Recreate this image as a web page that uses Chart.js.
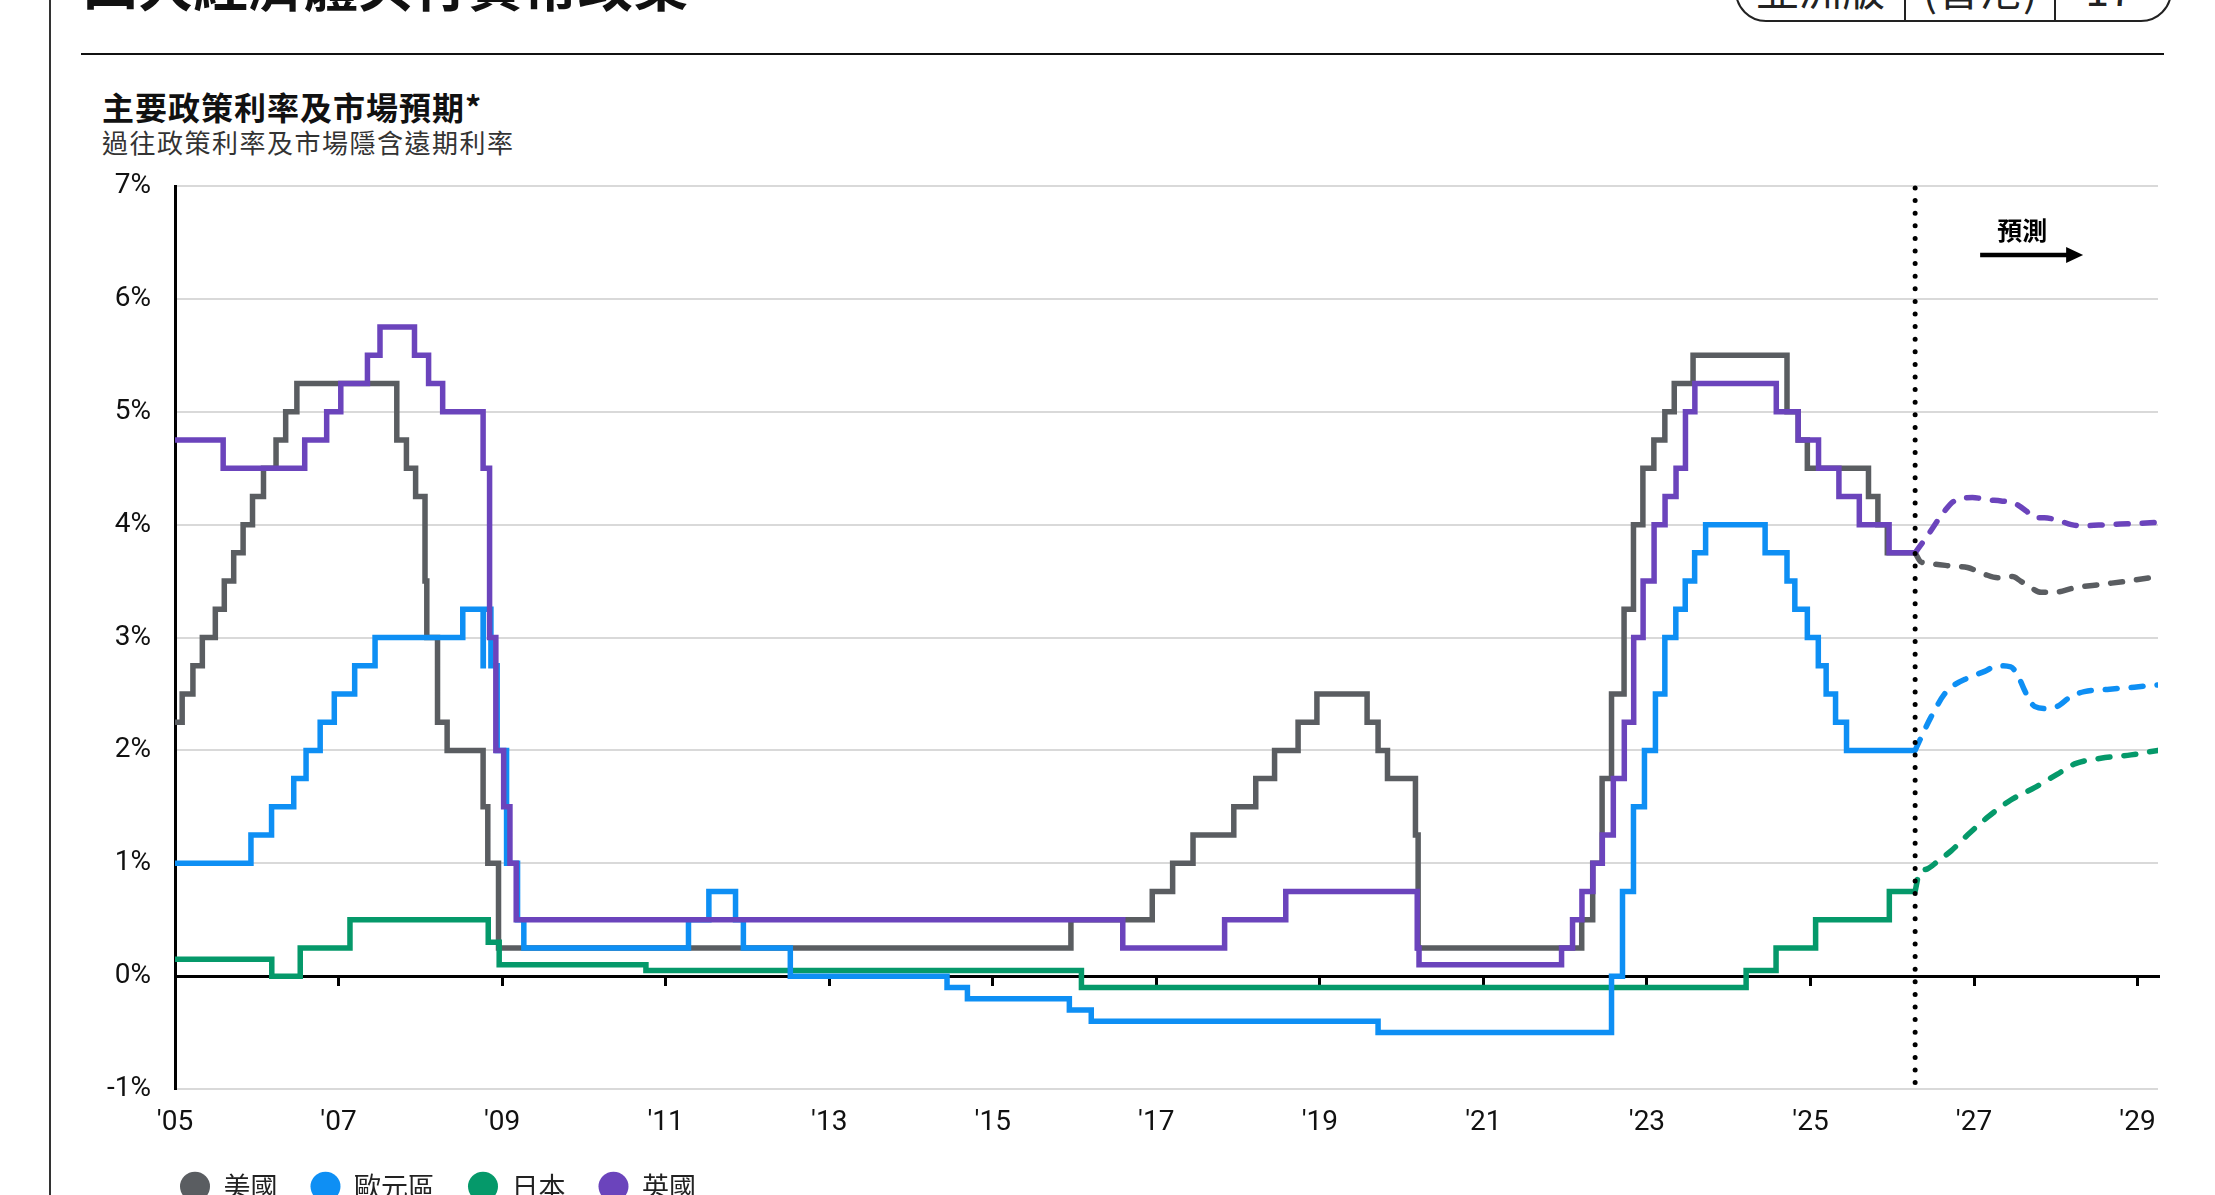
<!DOCTYPE html>
<html>
<head>
<meta charset="utf-8">
<script src="https://cdn.jsdelivr.net/npm/chart.js@4.4.1/dist/chart.umd.min.js"></script>
<style>
html,body{margin:0;padding:0;width:2215px;height:1195px;overflow:hidden;background:#fff;}
body{position:relative;font-family:'Noto Sans CJK TC','Noto Sans CJK SC',sans-serif;color:#111;}
.abs{position:absolute;white-space:nowrap;}
#pageTitle{left:83px;top:-45px;font-size:55px;line-height:55px;font-weight:700;color:#111;}
#vline{left:49px;top:0;width:2px;height:1195px;background:#333;}
#hline{left:81px;top:53px;width:2083px;height:2px;background:#111;}
#pill{left:1735px;top:-40px;width:437px;height:62px;border:2px solid #222;border-radius:34px;box-sizing:border-box;}
.pdiv{top:-10px;width:2px;height:32px;background:#222;}
.pcell{top:-36px;height:46px;font-size:43px;line-height:46px;color:#222;text-align:center;}
#chartTitle{left:102px;top:90px;font-size:32px;line-height:32px;font-weight:700;letter-spacing:1px;color:#111;}
#chartSub{left:102px;top:129px;font-size:26px;line-height:26px;letter-spacing:1.5px;color:#333;}
#wrap{position:absolute;left:0;top:150px;width:2215px;height:1060px;}
</style>
</head>
<body>
<div class="abs" id="vline"></div>
<div class="abs" id="pageTitle">四大經濟體央行貨幣政策</div>
<div class="abs" id="pill"></div>
<div class="abs pdiv" style="left:1904px;"></div>
<div class="abs pdiv" style="left:2054px;"></div>
<div class="abs pcell" style="left:1737px;width:167px;">亞洲版</div>
<div class="abs pcell" style="left:1906px;width:148px;">(香港)</div>
<div class="abs pcell" style="left:2056px;width:106px;">17</div>
<div class="abs" id="hline"></div>
<div class="abs" id="chartTitle">主要政策利率及市場預期*</div>
<div class="abs" id="chartSub">過往政策利率及市場隱含遠期利率</div>
<div id="wrap"><canvas id="c" width="2215" height="1060"></canvas></div>
<script>
// ---------- data ----------
const seriesNames = ['美國', '歐元區', '日本', '英國'];
const seriesColors = ['#5a5d61', '#0e8ff4', '#05996a', '#6b44bc'];
const forecastStart = 2026.28;
const forecastLabel = '預測';
const xTickYears = [2005, 2007, 2009, 2011, 2013, 2015, 2017, 2019, 2021, 2023, 2025, 2027, 2029];
const yTickValues = [-1, 0, 1, 2, 3, 4, 5, 6, 7];

const usDates = ['2005-01-01','2005-02-02','2005-03-22','2005-05-03','2005-06-30','2005-08-09','2005-09-20','2005-11-01','2005-12-13',
  '2006-01-31','2006-03-28','2006-05-10','2006-06-29','2007-09-18','2007-10-31','2007-12-11','2008-01-22','2008-01-30','2008-03-18',
  '2008-04-30','2008-10-08','2008-10-29','2008-12-16','2015-12-16','2016-12-14','2017-03-15','2017-06-14','2017-12-13','2018-03-21',
  '2018-06-13','2018-09-26','2018-12-19','2019-07-31','2019-09-18','2019-10-30','2020-03-03','2020-03-15','2022-03-16','2022-05-04',
  '2022-06-15','2022-07-27','2022-09-21','2022-11-02','2022-12-14','2023-02-01','2023-03-22','2023-05-03','2023-07-26','2024-09-18',
  '2024-11-07','2024-12-18','2025-09-17','2025-10-29','2025-12-10'];
const usRates = [2.25,2.5,2.75,3.0,3.25,3.5,3.75,4.0,4.25,
  4.5,4.75,5.0,5.25,4.75,4.5,4.25,3.5,3.0,2.25,
  2.0,1.5,1.0,0.25,0.5,0.75,1.0,1.25,1.5,1.75,
  2.0,2.25,2.5,2.25,2.0,1.75,1.25,0.25,0.5,1.0,
  1.75,2.5,3.25,4.0,4.5,4.75,5.0,5.25,5.5,5.0,
  4.75,4.5,4.25,4.0,3.75];

const euDates = ['2005-01-01','2005-12-06','2006-03-08','2006-06-15','2006-08-09','2006-10-11','2006-12-13','2007-03-14','2007-06-13',
  '2008-07-09','2008-10-08','2008-10-09','2008-11-12','2008-12-10','2009-01-21','2009-03-11','2009-04-08','2011-04-13','2011-07-13',
  '2011-11-09','2011-12-14','2012-07-11','2014-06-11','2014-09-10','2015-12-09','2016-03-16','2019-09-18','2022-07-27','2022-09-14',
  '2022-11-02','2022-12-21','2023-02-08','2023-03-22','2023-05-10','2023-06-21','2023-08-02','2023-09-20','2024-06-12','2024-09-18',
  '2024-10-23','2024-12-18','2025-02-05','2025-03-12','2025-04-23','2025-06-11'];
const euRates = [1.0,1.25,1.5,1.75,2.0,2.25,2.5,2.75,3.0,
  3.25,2.75,3.25,2.75,2.0,1.0,0.5,0.25,0.5,0.75,
  0.5,0.25,0.0,-0.1,-0.2,-0.3,-0.4,-0.5,0.0,0.75,
  1.5,2.0,2.5,3.0,3.25,3.5,3.75,4.0,3.75,3.5,
  3.25,3.0,2.75,2.5,2.25,2.0];

const jpDates = ['2005-01-01','2006-03-09','2006-07-14','2007-02-21','2008-10-31','2008-12-19','2010-10-05','2016-02-01',
  '2024-03-19','2024-07-31','2025-01-24','2025-12-19'];
const jpRates = [0.15,0.0,0.25,0.5,0.3,0.1,0.05,-0.1,0.05,0.25,0.5,0.75];

const ukDates = ['2005-01-01','2005-08-04','2006-08-03','2006-11-09','2007-01-11','2007-05-10','2007-07-05','2007-12-06','2008-02-07',
  '2008-04-10','2008-10-08','2008-11-06','2008-12-04','2009-01-08','2009-02-05','2009-03-05','2016-08-04','2017-11-02','2018-08-02',
  '2020-03-11','2020-03-19','2021-12-16','2022-02-03','2022-03-17','2022-05-05','2022-06-16','2022-08-04','2022-09-22','2022-11-03',
  '2022-12-15','2023-02-02','2023-03-23','2023-05-11','2023-06-22','2023-08-03','2024-08-01','2024-11-07','2025-02-06','2025-05-08',
  '2025-08-07','2025-12-18'];
const ukRates = [4.75,4.5,4.75,5.0,5.25,5.5,5.75,5.5,5.25,
  5.0,4.5,3.0,2.0,1.5,1.0,0.5,0.25,0.5,0.75,
  0.25,0.1,0.25,0.5,0.75,1.0,1.25,1.75,2.25,3.0,
  3.5,4.0,4.25,4.5,5.0,5.25,5.0,4.75,4.5,4.25,
  4.0,3.75];

// market-implied forward paths (decimal years)
const usFcYears = [2026.28,2026.35,2026.51,2026.76,2026.92,2027.13,2027.29,2027.47,2027.57,2027.70,2027.82,2027.98,2028.23,2028.55,2028.88,2029.25];
const usFcRates = [3.75,3.67,3.65,3.63,3.62,3.56,3.53,3.54,3.50,3.44,3.40,3.40,3.44,3.47,3.50,3.54];
const euFcYears = [2026.28,2026.35,2026.47,2026.64,2026.76,2026.92,2027.13,2027.29,2027.45,2027.53,2027.64,2027.74,2027.90,2028.02,2028.19,2028.35,2028.63,2028.96,2029.25];
const euFcRates = [2.00,2.11,2.29,2.50,2.58,2.64,2.70,2.75,2.74,2.67,2.50,2.39,2.37,2.39,2.48,2.52,2.54,2.56,2.58];
const jpFcYears = [2026.28,2026.33,2026.43,2026.56,2026.72,2026.92,2027.17,2027.45,2027.74,2028.02,2028.23,2028.55,2028.92,2029.25];
const jpFcRates = [0.75,0.91,0.95,1.02,1.11,1.25,1.41,1.56,1.67,1.79,1.88,1.93,1.96,2.00];
const ukFcYears = [2026.28,2026.41,2026.64,2026.76,2026.98,2027.17,2027.33,2027.49,2027.64,2027.74,2027.86,2028.02,2028.19,2028.33,2028.63,2028.96,2029.25];
const ukFcRates = [3.75,3.88,4.12,4.21,4.24,4.22,4.21,4.19,4.12,4.06,4.06,4.04,4.00,3.99,4.00,4.01,4.02];

// ---------- helpers ----------
function decYear(s) {
  const [y, m, d] = s.split('-').map(Number);
  const a = Date.UTC(y, 0, 1), b = Date.UTC(y + 1, 0, 1);
  return y + (Date.UTC(y, m - 1, d) - a) / (b - a);
}
function histPoints(dates, rates) {
  const pts = dates.map((d, i) => ({x: decYear(d), y: rates[i]}));
  pts.push({x: forecastStart, y: rates[rates.length - 1]});
  return pts;
}
function fcPoints(years, rates) { return years.map((x, i) => ({x, y: rates[i]})); }

const histSets = [[usDates, usRates], [euDates, euRates], [jpDates, jpRates], [ukDates, ukRates]];
const fcSets = [[usFcYears, usFcRates], [euFcYears, euFcRates], [jpFcYears, jpFcRates], [ukFcYears, ukFcRates]];
const drawOrder = [3, 1, 2, 0]; // lower = on top (UK on top)

const datasets = [];
histSets.forEach(([d, r], i) => datasets.push({
  label: seriesNames[i], data: histPoints(d, r), stepped: 'before',
  borderColor: seriesColors[i], backgroundColor: seriesColors[i], borderWidth: 5.5,
  pointRadius: 0, pointHoverRadius: 0, fill: false, borderJoinStyle: 'miter', order: drawOrder[i]
}));
fcSets.forEach(([yv, r], i) => datasets.push({
  label: seriesNames[i] + ' 預測', data: fcPoints(yv, r), tension: 0.4, cubicInterpolationMode: 'monotone',
  borderColor: seriesColors[i], backgroundColor: seriesColors[i], borderWidth: 5.5, borderDash: [12, 14],
  borderCapStyle: 'round', pointRadius: 0, pointHoverRadius: 0, fill: false, order: drawOrder[i]
}));

const legendInset = 147;
const legendShift = {
  id: 'legendShift',
  afterLayout(chart) { if (chart.legend) chart.legend.left = legendInset; }
};

const forecastMarker = {
  id: 'forecastMarker',
  afterDatasetsDraw(chart) {
    const {ctx, chartArea, scales} = chart;
    const x = scales.x.getPixelForValue(forecastStart);
    ctx.save();
    ctx.strokeStyle = '#000';
    ctx.lineWidth = 5;
    ctx.lineCap = 'round';
    ctx.setLineDash([0, 12.6]);
    ctx.beginPath();
    ctx.moveTo(x, chartArea.top + 2);
    ctx.lineTo(x, chartArea.bottom);
    ctx.stroke();
    ctx.setLineDash([]);
    ctx.fillStyle = '#000';
    ctx.font = "bold 25px 'Noto Sans CJK TC', sans-serif";
    ctx.textAlign = 'center';
    ctx.textBaseline = 'middle';
    ctx.fillText(forecastLabel, x + 107, chartArea.top + 44);
    const ay = chartArea.top + 69;
    ctx.lineWidth = 4.5;
    ctx.lineCap = 'butt';
    ctx.beginPath();
    ctx.moveTo(x + 65, ay);
    ctx.lineTo(x + 154, ay);
    ctx.stroke();
    ctx.beginPath();
    ctx.moveTo(x + 168, ay);
    ctx.lineTo(x + 151, ay - 8);
    ctx.lineTo(x + 151, ay + 8);
    ctx.closePath();
    ctx.fill();
    ctx.restore();
  }
};

Chart.defaults.font.family = "Roboto, 'Noto Sans CJK TC', sans-serif";
const tickFont = {family: "Roboto, 'Noto Sans CJK TC', sans-serif", size: 28};

new Chart(document.getElementById('c'), {
  type: 'line',
  data: {datasets},
  plugins: [forecastMarker, legendShift],
  options: {
    responsive: false,
    animation: false,
    devicePixelRatio: 1,
    layout: {padding: {left: 0, right: 57, top: 36, bottom: 0}},
    plugins: {
      tooltip: {enabled: false},
      legend: {
        position: 'bottom', align: 'start',
        labels: {
          usePointStyle: true, pointStyle: 'circle', pointStyleWidth: 30, boxHeight: 21,
          padding: 33, color: '#222',
          font: {family: "'Noto Sans CJK TC', sans-serif", size: 27},
          sort: (a, b) => a.datasetIndex - b.datasetIndex,
          generateLabels(chart) {
            const items = Chart.defaults.plugins.legend.labels.generateLabels(chart);
            return items.filter(it => it.datasetIndex < seriesNames.length)
              .map(it => Object.assign(it, {lineWidth: 0, strokeStyle: 'rgba(0,0,0,0)'}));
          }
        }
      }
    },
    scales: {
      x: {
        type: 'linear', position: 'bottom', min: 2005, max: 2029.25,
        grid: {display: false, drawTicks: false},
        border: {display: false},
        ticks: {font: tickFont, color: '#111', padding: 17, autoSkip: false, maxRotation: 0,
          callback: v => "'" + String(v).slice(2)},
        afterBuildTicks: s => { s.ticks = xTickYears.map(v => ({value: v})); },
        afterFit: s => { s.height = 51; }
      },
      x0: {
        type: 'linear', axis: 'x', position: {y: 0}, min: 2005, max: 2029.25,
        grid: {drawOnChartArea: false, drawTicks: true, tickLength: 8, color: '#000', lineWidth: 3},
        border: {display: true, color: '#000', width: 3},
        ticks: {display: false},
        afterBuildTicks: s => { s.ticks = xTickYears.slice(1).map(v => ({value: v})); }
      },
      y: {
        type: 'linear', position: 'left', min: -1, max: 7,
        grid: {color: '#d9d9d9', lineWidth: 2, drawTicks: false},
        border: {display: true, color: '#000', width: 3},
        ticks: {font: tickFont, color: '#111', padding: 24, stepSize: 1, callback: v => v + '%'},
        afterBuildTicks: s => { s.ticks = yTickValues.map(v => ({value: v})); },
        afterFit: s => { s.width = 175; s.paddingTop = 17; s.paddingBottom = 17; }
      }
    }
  }
});
</script>
</body>
</html>
